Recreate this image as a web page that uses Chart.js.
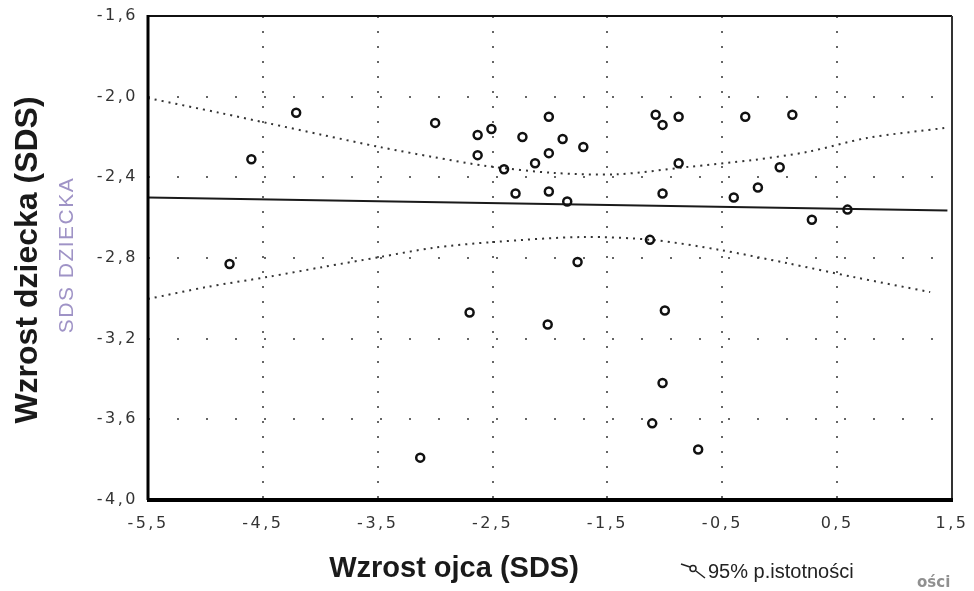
<!DOCTYPE html>
<html lang="pl">
<head>
  <meta charset="UTF-8">
  <title>Wzrost ojca a wzrost dziecka</title>
  <script src="https://cdn.jsdelivr.net/npm/chart.js"></script>
  <style>
    * { box-sizing: border-box; margin: 0; padding: 0; }
    body { background: #fff; width: 974px; height: 591px; overflow: hidden; }
    canvas { display: block; }
  </style>
</head>
<body>
  <canvas id="chart" width="974" height="591"></canvas>
  <script>
    // father SDS (x) vs child SDS (y)
    const fatherSds = [-4.21, -4.60, -4.79, -3.00, -2.51, -2.63, -2.63, -2.40, -2.30, -2.24,
                       -2.13, -2.01, -1.89, -2.01, -2.01, -1.85, -1.71, -1.76, -1.08, -1.02,
                       -0.88, -0.30, 0.11, -0.88, 0.00, -1.02, -0.40, -0.19, 0.59, 0.28,
                       -1.13, -2.70, -2.02, -3.13, -1.00, -1.02, -1.11, -0.71];
    const childSds  = [-2.08, -2.31, -2.83, -2.13, -2.16, -2.19, -2.29, -2.36, -2.48, -2.20,
                       -2.33, -2.10, -2.21, -2.28, -2.47, -2.52, -2.25, -2.82, -2.09, -2.14,
                       -2.10, -2.10, -2.09, -2.33, -2.35, -2.48, -2.50, -2.45, -2.56, -2.61,
                       -2.71, -3.07, -3.13, -3.79, -3.06, -3.42, -3.62, -3.75];

    // regression line
    const fitX = [-5.5, 1.46];
    const fitY = [-2.50, -2.565];

    // 95% bands
    const upperX = [-5.5, -4.87, -4.46, -3.98, -3.48, -3.02, -2.55, -1.97, -1.42, -0.81, -0.23, 0.24, 0.76, 1.44];
    const upperY = [-2.007, -2.081, -2.131, -2.19, -2.25, -2.299, -2.344, -2.378, -2.385, -2.349, -2.314, -2.274, -2.205, -2.155];
    const lowerX = [-5.5, -4.99, -4.46, -3.98, -3.48, -3.02, -2.50, -1.71, -1.10, -0.52, 0.06, 0.64, 1.31];
    const lowerY = [-3.003, -2.944, -2.894, -2.845, -2.795, -2.75, -2.721, -2.696, -2.711, -2.76, -2.825, -2.894, -2.969];

    const xTickValues = [-5.5, -4.5, -3.5, -2.5, -1.5, -0.5, 0.5, 1.5];
    const yTickValues = [-4.0, -3.6, -3.2, -2.8, -2.4, -2.0, -1.6];

    const pts = (xs, ys) => xs.map((x, i) => ({ x: x, y: ys[i] }));
    const comma = v => Number(v).toFixed(1).replace('.', ',');

    const decor = {
      id: 'decor',
      beforeDraw(chart) { chart.ctx.letterSpacing = '2.5px'; },
      beforeDatasetsDraw(chart) { chart.ctx.letterSpacing = '0px'; },
      afterDraw(chart) {
        const ctx = chart.ctx;
        const { left, right, top, bottom } = chart.chartArea;
        ctx.save();
        ctx.letterSpacing = '0px';

        // frame
        ctx.strokeStyle = '#111';
        ctx.lineWidth = 2;
        ctx.beginPath(); ctx.moveTo(left, top); ctx.lineTo(right, top); ctx.stroke();
        ctx.strokeStyle = '#333';
        ctx.beginPath(); ctx.moveTo(right, top); ctx.lineTo(right, bottom); ctx.stroke();
        ctx.strokeStyle = '#000';
        ctx.lineWidth = 3;
        ctx.beginPath(); ctx.moveTo(left, top - 1); ctx.lineTo(left, bottom); ctx.stroke();
        ctx.lineWidth = 4;
        ctx.beginPath(); ctx.moveTo(left - 1, bottom); ctx.lineTo(right + 1, bottom); ctx.stroke();

        // axis titles
        ctx.fillStyle = '#1a1a1a';
        ctx.textAlign = 'center';
        ctx.textBaseline = 'alphabetic';
        ctx.font = 'bold 29px "Liberation Sans", Arial, sans-serif';
        ctx.fillText('Wzrost ojca (SDS)', 454, 577);

        ctx.save();
        ctx.translate(37, 260);
        ctx.rotate(-Math.PI / 2);
        ctx.font = 'bold 32px "Liberation Sans", Arial, sans-serif';
        ctx.fillText('Wzrost dziecka (SDS)', 0, 0);
        ctx.restore();

        // faded scan leftovers
        ctx.save();
        ctx.translate(73, 255);
        ctx.rotate(-Math.PI / 2);
        ctx.letterSpacing = '1.5px';
        ctx.font = '21px "Liberation Sans", Arial, sans-serif';
        ctx.fillStyle = 'rgba(95, 75, 160, 0.6)';
        ctx.fillText('SDS DZIECKA', 0, 0);
        ctx.restore();

        ctx.textAlign = 'left';
        ctx.font = 'bold 15px "DejaVu Sans", sans-serif';
        ctx.fillStyle = 'rgba(70, 70, 70, 0.6)';
        ctx.fillText('ości', 917, 587);

        // band legend
        ctx.strokeStyle = '#222';
        ctx.lineWidth = 1.5;
        ctx.beginPath(); ctx.moveTo(681, 564); ctx.lineTo(690, 567); ctx.stroke();
        ctx.beginPath(); ctx.arc(693, 568.5, 3, 0, Math.PI * 2); ctx.stroke();
        ctx.beginPath(); ctx.moveTo(696, 571); ctx.lineTo(705, 578); ctx.stroke();
        ctx.fillStyle = '#222';
        ctx.font = '20px "Liberation Sans", Arial, sans-serif';
        ctx.fillText('95% p.istotności', 708, 578);
        ctx.restore();
      }
    };

    new Chart(document.getElementById('chart'), {
      type: 'scatter',
      data: {
        datasets: [
          {
            label: 'dane',
            data: pts(fatherSds, childSds),
            pointRadius: 4,
            pointBorderWidth: 2.5,
            borderColor: '#111',
            backgroundColor: 'rgba(0,0,0,0)'
          },
          {
            label: 'regresja',
            data: pts(fitX, fitY),
            showLine: true,
            pointRadius: 0,
            borderColor: '#1a1a1a',
            borderWidth: 2
          },
          {
            label: 'górna 95%',
            data: pts(upperX, upperY),
            showLine: true,
            pointRadius: 0,
            borderColor: '#333',
            borderWidth: 2,
            borderDash: [2, 5],
            tension: 0.3
          },
          {
            label: 'dolna 95%',
            data: pts(lowerX, lowerY),
            showLine: true,
            pointRadius: 0,
            borderColor: '#333',
            borderWidth: 2,
            borderDash: [2, 5],
            tension: 0.3
          }
        ]
      },
      options: {
        responsive: false,
        animation: false,
        devicePixelRatio: 1,
        layout: { padding: { left: 0, top: 16, right: 22, bottom: 0 }, autoPadding: false },
        plugins: { legend: { display: false }, tooltip: { enabled: false } },
        scales: {
          x: {
            type: 'linear',
            min: -5.5, max: 1.5,
            afterBuildTicks: s => { s.ticks = xTickValues.map(v => ({ value: v })); },
            afterFit: s => { s.height = 91; s.paddingLeft = 0; s.paddingRight = 0; },
            grid: { color: '#666', lineWidth: 2, drawTicks: false },
            border: { display: false, dash: [2, 13] },
            ticks: {
              padding: 14, maxRotation: 0, autoSkip: false,
              color: '#333',
              font: { family: '"DejaVu Sans", sans-serif', size: 16 },
              callback: v => comma(v)
            }
          },
          y: {
            type: 'linear',
            min: -4.0, max: -1.6,
            afterBuildTicks: s => { s.ticks = yTickValues.map(v => ({ value: v })); },
            afterFit: s => { s.width = 148; s.paddingTop = 0; s.paddingBottom = 0; },
            grid: { color: '#666', lineWidth: 2, drawTicks: false },
            border: { display: false, dash: [2, 27] },
            ticks: {
              padding: 10, autoSkip: false,
              color: '#333',
              font: { family: '"DejaVu Sans", sans-serif', size: 16 },
              callback: v => comma(v)
            }
          }
        }
      },
      plugins: [decor]
    });
  </script>
</body>
</html>
